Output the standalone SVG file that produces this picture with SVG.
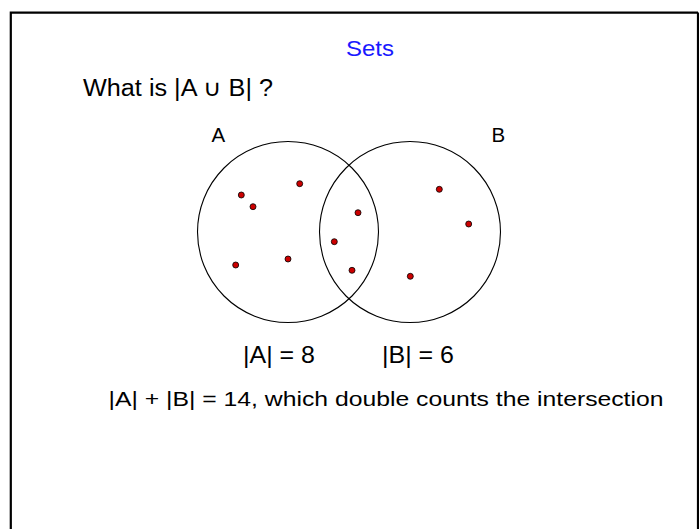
<svg xmlns="http://www.w3.org/2000/svg" width="699" height="529" viewBox="0 0 699 529">
<style>
text{font-family:"Liberation Sans","DejaVu Sans",sans-serif;fill:#000}
.title{fill:#1a1aff}
.set{fill:none;stroke:#000;stroke-width:1.1}
.dot{fill:#cc0000;stroke:#000;stroke-width:0.8}
.frame{fill:none;stroke:#000;stroke-width:2.2}
</style>
<rect width="699" height="529" fill="#fff"/>
<path class="frame" d="M10.8,529 V12.6 H698"/>
<line class="frame" x1="698" y1="12.6" x2="698" y2="529"/>
<text class="title" x="346" y="56" font-size="22" textLength="48" lengthAdjust="spacingAndGlyphs">Sets</text>
<text x="83" y="96" font-size="23" textLength="190" lengthAdjust="spacingAndGlyphs">What is |A ∪ B| ?</text>
<g id="setA">
<circle class="set" cx="288" cy="232" r="90.5"/>
<text x="211.5" y="142" font-size="20.5">A</text>
</g>
<g id="setB">
<circle class="set" cx="410" cy="232" r="90.5"/>
<text x="491.5" y="142" font-size="20.5">B</text>
</g>
<g id="elements">
<circle class="dot" cx="241.3" cy="195" r="3"/>
<circle class="dot" cx="253" cy="206.7" r="3"/>
<circle class="dot" cx="299.7" cy="183.7" r="3"/>
<circle class="dot" cx="235.7" cy="265" r="3"/>
<circle class="dot" cx="288" cy="259" r="3"/>
<circle class="dot" cx="358" cy="212.7" r="3"/>
<circle class="dot" cx="334.3" cy="241.7" r="3"/>
<circle class="dot" cx="352" cy="270.3" r="3"/>
<circle class="dot" cx="439.3" cy="189.3" r="3"/>
<circle class="dot" cx="468.7" cy="224" r="3"/>
<circle class="dot" cx="410.3" cy="276.3" r="3"/>
</g>
<g id="connectors"></g>
<text x="243" y="363" font-size="24.5" textLength="72" lengthAdjust="spacingAndGlyphs">|A| = 8</text>
<text x="382" y="363" font-size="24.5" textLength="72" lengthAdjust="spacingAndGlyphs">|B| = 6</text>
<text x="108.5" y="406" font-size="21" textLength="555" lengthAdjust="spacingAndGlyphs">|A| + |B| = 14, which double counts the intersection</text>
</svg>
